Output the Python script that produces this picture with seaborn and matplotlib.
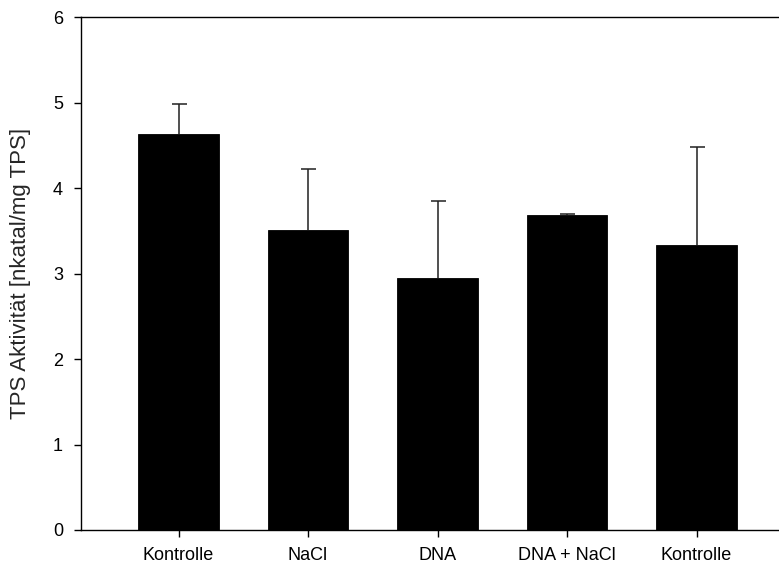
import matplotlib
matplotlib.use("Agg")
import matplotlib.pyplot as plt
import seaborn as sns
import numpy as np
import pandas as pd

categories = ["Kontrolle", "NaCl", "DNA", "DNA + NaCl", "Kontrolle"]
means = [4.63, 3.51, 2.95, 3.69, 3.33]
upper_err = [0.36, 0.71, 0.90, 0.01, 1.15]
y_ticks = [0, 1, 2, 3, 4, 5, 6]
y_label = "TPS Aktivität [nkatal/mg TPS]"

sns.set_theme(style="ticks")
plt.rcParams['font.family'] = ['Liberation Sans', 'DejaVu Sans']

fig = plt.figure(figsize=(7.79, 5.68), dpi=100)
ax = fig.add_axes([81/779, 1-530/568, (779-81)/779, (530-17.3)/568])

df = pd.DataFrame({"pos": list(range(len(categories))), "mean": means})
sns.barplot(data=df, x="pos", y="mean", color="black", errorbar=None,
            width=0.618, saturation=1, edgecolor="black", linewidth=0.6, ax=ax)

_, caplines, _ = ax.errorbar(df["pos"], df["mean"],
                             yerr=[np.zeros(len(means)), upper_err],
                             fmt="none", ecolor="#202020", elinewidth=1.1,
                             capsize=5.4, capthick=1.1, zorder=3)
# only the upper caps are shown
if len(caplines) >= 2:
    caplines[0].set_visible(False)

ax.set_xlim(-0.753, 4.637)
ax.set_ylim(0, 6)
ax.set_yticks(y_ticks)
ax.set_yticklabels([str(t) for t in y_ticks])
ax.set_xticks(range(len(categories)))
ax.set_xticklabels(categories)
ax.set_xlabel("")
ax.set_ylabel(y_label, fontsize=16)
ax.yaxis.set_label_coords(-0.0716, 0.5)

for s in ["left", "top", "bottom"]:
    ax.spines[s].set_visible(True)
    ax.spines[s].set_linewidth(1.0)
    ax.spines[s].set_color("black")
ax.spines["right"].set_visible(False)

ax.tick_params(axis="both", direction="out", length=5, width=1.0, color="black",
               labelsize=13, labelcolor="black")
ax.tick_params(axis="y", pad=7.9)
ax.tick_params(axis="x", pad=7.6)
ax.tick_params(top=False, right=False)

fig.savefig("out.png", dpi=100)
